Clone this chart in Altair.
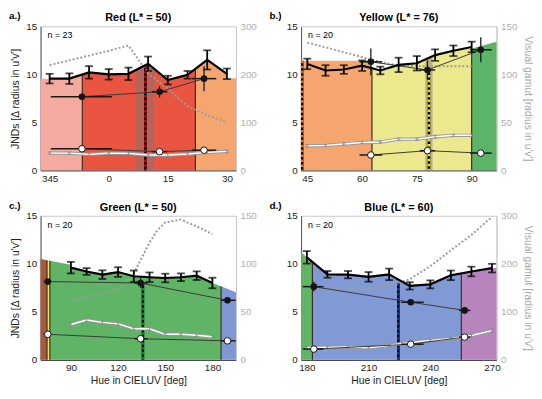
import altair as alt
import pandas as pd

FONT = "Liberation Sans"
W, H = 198, 146

# ---------------- a.) Red ----------------
a_hue = [-15, -10, -5, 0, 5, 10, 15, 20, 25, 30]
a_jnd = [9.55, 9.55, 10.2, 10.0, 10.05, 11.1, 9.4, 9.95, 11.5, 10.05]
a_jnd_err = [0.5, 0.55, 0.65, 0.55, 0.65, 0.75, 0.45, 0.4, 1.0, 0.55]
a_low = [1.8, 1.8, 1.67, 1.8, 1.77, 1.6, 1.6, 1.7, 1.87, 1.98]
a_low_err = [0.12, 0.12, 0.12, 0.1, 0.12, 0.1, 0.15, 0.12, 0.12, 0.15]
a_gam_hue = [-15, -10, -5, 0, 5, 10, 15, 20, 25, 30]
a_gam = [219, 229, 239, 249, 260, 202, 170, 134, 115, 100]
a_mk_hue = [-6.8, 12.9, 24.2]
a_mk_lo = [-14.7, 10.9, 21.1]
a_mk_hi = [0.8, 14.9, 27.3]
a_mk_blk = [7.67, 8.18, 9.55]
a_mk_blk_err = [0.3, 0.6, 1.3]
a_mk_wht = [2.25, 1.95, 2.1]
a_fill_hue = [-17.3, -15, -10, -5, 0, 5, 10, 15, 20, 25, 30, 30.2, 32.3]
a_fill_top = [9.5, 9.55, 9.55, 10.2, 10.0, 10.05, 11.1, 9.4, 9.95, 11.5, 10.05, 9.6, 9.6]
a_reg_lo = [-17.3, -6.7, 22]
a_reg_hi = [-6.7, 22, 32.3]
a_reg_col = ["#f5aaa0", "#e95541", "#f5a56e"]
a_edges = [-6.7, 22]
a_band = [[6.9, 11.6]]
a_dash_hue = [9.3]
a_dash_top = [10.9]
a_dash_col = ["#d00000"]

# ---------------- b.) Yellow ----------------
b_hue = [45, 50, 55, 60, 65, 70, 75, 80, 85, 90]
b_jnd = [11.08, 10.4, 10.5, 10.9, 10.4, 10.98, 11.15, 12.0, 12.45, 12.85]
b_jnd_err = [0.55, 0.55, 0.45, 0.55, 0.4, 0.75, 0.75, 0.6, 0.55, 0.55]
b_low = [2.55, 2.6, 2.75, 2.9, 2.95, 3.25, 3.25, 3.5, 3.65, 3.65]
b_low_err = [0.15, 0.1, 0.1, 0.1, 0.1, 0.12, 0.12, 0.15, 0.12, 0.12]
b_gam_hue = [45, 50, 55, 60, 65, 70, 75, 80, 85, 90]
b_gam = [133, 128, 123, 118, 113, 109, 108.5, 108.5, 108.5, 108.5]
b_mk_hue = [62.4, 77.9, 92.5]
b_mk_lo = [59.3, 75.8, 89.6]
b_mk_hi = [65.5, 80.0, 95.5]
b_mk_blk = [11.3, 10.45, 12.55]
b_mk_blk_err = [1.4, 1.0, 1.3]
b_mk_wht = [1.6, 2.05, 1.8]
b_fill_hue = [43.3, 62.7, 62.7, 65, 70, 75, 80, 85, 90, 90, 96.8]
b_fill_top = [11.4, 11.4, 10.75, 10.4, 10.98, 11.15, 12.0, 12.45, 12.85, 12.7, 13.4]
b_reg_lo = [43.3, 62.7, 90.0]
b_reg_hi = [62.7, 90.0, 96.8]
b_reg_col = ["#f5a66e", "#ece88e", "#5cb466"]
b_edges = [62.7, 90.0]
b_band = [[77.3, 79.3]]
b_dash_hue = [78.3, 43.6]
b_dash_top = [10.45, 11.4]
b_dash_col = ["#f2e600", "#e8731a"]

# ---------------- c.) Green ----------------
c_hue = [90, 100, 110, 120, 130, 140, 150, 160, 170, 180]
c_jnd = [9.6, 9.2, 8.87, 9.14, 8.7, 8.6, 8.52, 8.6, 8.76, 8.0]
c_jnd_err = [0.6, 0.35, 0.45, 0.5, 0.6, 0.5, 0.45, 0.4, 0.45, 0.55]
c_low = [3.68, 4.15, 3.9, 3.75, 3.24, 3.24, 2.66, 2.66, 2.56, 2.4]
c_low_err = [0.3, 0.2, 0.15, 0.15, 0.12, 0.15, 0.12, 0.1, 0.12, 0.12]
c_gam_hue = [90, 100, 110, 120, 125, 130, 135, 140, 145, 150, 160, 170, 180]
c_gam = [62, 65, 69, 73, 78, 90, 106, 122, 135, 143, 146, 139, 131]
c_mk_hue = [75.3, 134.3, 189.6]
c_mk_lo = [72.6, 130.5, 185.5]
c_mk_hi = [77.6, 138.8, 194.8]
c_mk_blk = [8.15, 8.0, 6.2]
c_mk_blk_err = [0.2, 0.5, 0.3]
c_mk_wht = [2.66, 2.2, 1.98]
c_fill_hue = [70.7, 89.7, 90, 100, 110, 120, 130, 140, 150, 160, 170, 180, 185.5, 195]
c_fill_top = [10.5, 9.9, 9.6, 9.2, 8.87, 9.14, 8.7, 8.6, 8.52, 8.6, 8.76, 8.0, 7.65, 7.05]
c_reg_lo = [70.7, 74.8, 76.6, 185.5]
c_reg_hi = [74.8, 76.6, 185.5, 195.0]
c_reg_col = ["#a9583c", "#f3e36a", "#5fb466", "#7f98d4"]
c_edges = [74.8, 76.6, 185.5]
c_band = []
c_dash_hue = [135.8]
c_dash_top = [8.0]
c_dash_col = ["#0a8a3a"]

# ---------------- d.) Blue ----------------
d_hue = [180, 190, 200, 210, 220, 230, 240, 250, 260, 270]
d_jnd = [10.67, 8.9, 8.87, 8.64, 8.9, 7.7, 7.86, 8.8, 9.2, 9.55]
d_jnd_err = [0.65, 0.35, 0.38, 0.5, 0.6, 0.38, 0.42, 0.5, 0.5, 0.45]
d_low = [1.29, 1.29, 1.35, 1.25, 1.52, 1.8, 2.03, 2.2, 2.54, 3.05]
d_low_err = [0.12, 0.1, 0.1, 0.1, 0.1, 0.1, 0.1, 0.12, 0.12, 0.15]
d_gam_hue = [183, 190, 200, 210, 220, 230, 240, 250, 260, 270]
d_gam = [148, 147, 147, 149, 153, 168, 195, 228, 260, 298]
d_mk_hue = [183.4, 230.5, 256.7]
d_mk_lo = [178.0, 225.8, 254.0]
d_mk_hi = [188.1, 236.8, 259.5]
d_mk_blk = [7.62, 6.0, 5.15]
d_mk_blk_err = [0.5, 0.2, 0.35]
d_mk_wht = [1.12, 1.63, 2.37]
d_fill_hue = [177.2, 180, 190, 200, 210, 220, 230, 240, 250, 260, 270, 272.2]
d_fill_top = [11.2, 10.67, 8.9, 8.87, 8.64, 8.9, 7.7, 7.86, 8.8, 9.2, 9.55, 9.55]
d_reg_lo = [177.2, 182.7, 255.1]
d_reg_hi = [182.7, 255.1, 272.2]
d_reg_col = ["#5fb466", "#819ad6", "#b884be"]
d_edges = [182.7, 255.1]
d_band = []
d_dash_hue = [224.5]
d_dash_top = [8.0]
d_dash_col = ["#1a3a9a"]

YT = "JNDs [\u0394 radius in u'v']"
RT = "Visual gamut [radius in u'v']"
XT = "Hue in CIELUV [deg]"

panels = [
    dict(title="Red (L* = 50)", label="a.)", n="n = 23", xdom=[-17.3, 32.3], xticks=[-15, 0, 15, 30],
         xexpr="datum.value < 0 ? datum.value + 360 : datum.value", rdom=[0, 300], rticks=[0, 100, 200, 300],
         ytitle=YT, rtitle=None, xtitle=None,
         hue=a_hue, jnd=a_jnd, jnd_err=a_jnd_err, low=a_low, low_err=a_low_err, gh=a_gam_hue, g=a_gam,
         mh=a_mk_hue, mlo=a_mk_lo, mhi=a_mk_hi, mb=a_mk_blk, mbe=a_mk_blk_err, mw=a_mk_wht,
         fh=a_fill_hue, ft=a_fill_top, rlo=a_reg_lo, rhi=a_reg_hi, rcol=a_reg_col, edges=a_edges,
         band=a_band, dh=a_dash_hue, dt=a_dash_top, dc=a_dash_col),
    dict(title="Yellow (L* = 76)", label="b.)", n="n = 20", xdom=[43.3, 96.8], xticks=[45, 60, 75, 90],
         rdom=[0, 150], rticks=[0, 50, 100, 150], ytitle=None, rtitle=RT, xtitle=None,
         hue=b_hue, jnd=b_jnd, jnd_err=b_jnd_err, low=b_low, low_err=b_low_err, gh=b_gam_hue, g=b_gam,
         mh=b_mk_hue, mlo=b_mk_lo, mhi=b_mk_hi, mb=b_mk_blk, mbe=b_mk_blk_err, mw=b_mk_wht,
         fh=b_fill_hue, ft=b_fill_top, rlo=b_reg_lo, rhi=b_reg_hi, rcol=b_reg_col, edges=b_edges,
         band=b_band, dh=b_dash_hue, dt=b_dash_top, dc=b_dash_col),
    dict(title="Green (L* = 50)", label="c.)", n="n = 20", xdom=[70.7, 195.0], xticks=[90, 120, 150, 180],
         rdom=[0, 150], rticks=[0, 50, 100, 150], ytitle=YT, rtitle=None, xtitle=XT,
         hue=c_hue, jnd=c_jnd, jnd_err=c_jnd_err, low=c_low, low_err=c_low_err, gh=c_gam_hue, g=c_gam,
         mh=c_mk_hue, mlo=c_mk_lo, mhi=c_mk_hi, mb=c_mk_blk, mbe=c_mk_blk_err, mw=c_mk_wht,
         fh=c_fill_hue, ft=c_fill_top, rlo=c_reg_lo, rhi=c_reg_hi, rcol=c_reg_col, edges=c_edges,
         band=c_band, dh=c_dash_hue, dt=c_dash_top, dc=c_dash_col),
    dict(title="Blue (L* = 60)", label="d.)", n="n = 20", xdom=[177.2, 272.2], xticks=[180, 210, 240, 270],
         rdom=[0, 300], rticks=[0, 100, 200, 300], ytitle=None, rtitle=RT, xtitle=XT,
         hue=d_hue, jnd=d_jnd, jnd_err=d_jnd_err, low=d_low, low_err=d_low_err, gh=d_gam_hue, g=d_gam,
         mh=d_mk_hue, mlo=d_mk_lo, mhi=d_mk_hi, mb=d_mk_blk, mbe=d_mk_blk_err, mw=d_mk_wht,
         fh=d_fill_hue, ft=d_fill_top, rlo=d_reg_lo, rhi=d_reg_hi, rcol=d_reg_col, edges=d_edges,
         band=d_band, dh=d_dash_hue, dt=d_dash_top, dc=d_dash_col),
]


def top_at(fh, ft, x, side):
    """Profile value at x (side='left' takes the last value if x is a step, 'right' the first)."""
    exact = [t for h, t in zip(fh, ft) if h == x]
    if exact:
        return exact[-1] if side == "left" else exact[0]
    for k in range(len(fh) - 1):
        if fh[k] <= x <= fh[k + 1] and fh[k + 1] > fh[k]:
            f = (x - fh[k]) / (fh[k + 1] - fh[k])
            return ft[k] + f * (ft[k + 1] - ft[k])
    return ft[-1]


def segment(fh, ft, lo, hi, key):
    rows = [(lo, top_at(fh, ft, lo, "left"))]
    rows += [(h, t) for h, t in zip(fh, ft) if lo < h < hi]
    rows.append((hi, top_at(fh, ft, hi, "right")))
    return [{"hue": h, "top": t, "r": key} for (h, t) in rows]


def make_panel(P):
    xs = alt.Scale(domain=P["xdom"], nice=False, zero=False)
    ys = alt.Scale(domain=[0, 15], nice=False, zero=False)
    rs = alt.Scale(domain=P["rdom"], nice=False, zero=False)

    xkw = dict(orient="bottom", values=P["xticks"], grid=False, ticks=False, labelPadding=3,
               domainColor="#333333", title=P["xtitle"], titlePadding=3)
    if "xexpr" in P:
        xkw["labelExpr"] = P["xexpr"]
    xaxis = alt.Axis(**xkw)
    yaxis = alt.Axis(orient="left", values=[0, 5, 10, 15], grid=False, ticks=False, labelPadding=4,
                     domainColor="#555555", title=P["ytitle"], titlePadding=5)
    raxis = alt.Axis(orient="right", values=P["rticks"], grid=False, ticks=False, labelPadding=4,
                     domainColor="#c8c8c8", labelColor="#b0b0b0", titleColor="#a8a8a8",
                     title=P["rtitle"], titleAngle=90, titlePadding=6)

    # every layer carries the same (shared) x axis definition so that the merge keeps it
    def X(f):
        return alt.X(f, type="quantitative", scale=xs, axis=xaxis)

    def Y(f, axis=None):
        return alt.Y(f, type="quantitative", scale=ys, axis=axis)

    fh, ft = P["fh"], P["ft"]
    reg_rows = []
    for k, (lo, hi, col) in enumerate(zip(P["rlo"], P["rhi"], P["rcol"])):
        for r in segment(fh, ft, lo, hi, k):
            r["col"] = col
            reg_rows.append(r)
    reg = pd.DataFrame(reg_rows)
    band_rows = []
    for k, (lo, hi) in enumerate(P["band"]):
        band_rows += segment(fh, ft, lo, hi, k)
    edges = pd.DataFrame({"e": P["edges"],
                          "top": [min(top_at(fh, ft, e, "left"), top_at(fh, ft, e, "right")) for e in P["edges"]]})

    jnd = pd.DataFrame({"hue": P["hue"], "v": P["jnd"],
                        "lo": [v - e for v, e in zip(P["jnd"], P["jnd_err"])],
                        "hi": [v + e for v, e in zip(P["jnd"], P["jnd_err"])]})
    low = pd.DataFrame({"hue": P["hue"], "v": P["low"],
                        "lo": [v - e for v, e in zip(P["low"], P["low_err"])],
                        "hi": [v + e for v, e in zip(P["low"], P["low_err"])]})
    mk = pd.DataFrame({"hue": P["mh"], "lo": P["mlo"], "hi": P["mhi"], "b": P["mb"], "w": P["mw"],
                       "blo": [v - e for v, e in zip(P["mb"], P["mbe"])],
                       "bhi": [v + e for v, e in zip(P["mb"], P["mbe"])]})
    gam = pd.DataFrame({"h": P["gh"], "g": P["g"]})
    dash = pd.DataFrame({"hue": P["dh"], "top": P["dt"], "col": P["dc"]})

    layers = []
    # JND line first (invisible): carries the left axis
    layers.append(alt.Chart(jnd).mark_line(color="black", strokeWidth=2.2, opacity=0).encode(
        x=X("hue"), y=Y("v", yaxis)))
    layers.append(alt.Chart(reg).mark_area(opacity=1, line=False).encode(
        x=X("hue"), y=Y("top"), y2=alt.Y2Datum(0), detail="r:N",
        color=alt.Color("col:N", scale=None)))
    if band_rows:
        layers.append(alt.Chart(pd.DataFrame(band_rows)).mark_area(color="#777777", opacity=0.45).encode(
            x=X("hue"), y=Y("top"), y2=alt.Y2Datum(0), detail="r:N"))
    layers.append(alt.Chart(edges).mark_rule(color="#3b2b22", strokeWidth=1.2).encode(
        x=X("e"), y=Y("top"), y2=alt.Y2Datum(0)))
    layers.append(alt.Chart(dash).mark_rule(color="black", strokeWidth=2.6).encode(
        x=X("hue"), y=Y("top"), y2=alt.Y2Datum(0)))
    layers.append(alt.Chart(dash).mark_rule(strokeWidth=2.6, strokeDash=[2.5, 2.5]).encode(
        x=X("hue"), y=Y("top"), y2=alt.Y2Datum(0), color=alt.Color("col:N", scale=None)))

    # gamut (right axis)
    layers.append(alt.Chart(gam).mark_line(color="#9c9c9c", strokeWidth=2, strokeDash=[2, 2]).encode(
        x=X("h"), y=alt.Y("g", type="quantitative", scale=rs, axis=raxis)))

    # lower (white) JND series
    layers.append(alt.Chart(low).mark_line(color="#9a9a9a", strokeWidth=3.4).encode(x=X("hue"), y=Y("v")))
    layers.append(alt.Chart(low).mark_line(color="white", strokeWidth=1.4).encode(x=X("hue"), y=Y("v")))
    layers.append(alt.Chart(low).mark_rule(color="#8a8a8a", strokeWidth=1).encode(
        x=X("hue"), y=Y("lo"), y2="hi"))
    for f in ["lo", "hi"]:
        layers.append(alt.Chart(low).mark_tick(orient="horizontal", size=4, thickness=1, color="#8a8a8a").encode(
            x=X("hue"), y=Y(f)))

    # marker connections and horizontal bars
    for f in ["b", "w"]:
        layers.append(alt.Chart(mk).mark_line(color="#3a3a3a", strokeWidth=1).encode(x=X("hue"), y=Y(f)))
        layers.append(alt.Chart(mk).mark_rule(color="#1a1a1a", strokeWidth=1.5).encode(
            x=X("lo"), x2="hi", y=Y(f)))
    layers.append(alt.Chart(mk).mark_rule(color="#1a1a1a", strokeWidth=1.3).encode(
        x=X("hue"), y=Y("blo"), y2="bhi"))

    # main JND line (visible)
    layers.append(alt.Chart(jnd).mark_line(color="black", strokeWidth=2.2).encode(x=X("hue"), y=Y("v")))
    layers.append(alt.Chart(jnd).mark_rule(color="black", strokeWidth=1.8).encode(
        x=X("hue"), y=Y("lo"), y2="hi"))
    for f in ["lo", "hi"]:
        layers.append(alt.Chart(jnd).mark_tick(orient="horizontal", size=8, thickness=1.8, color="black").encode(
            x=X("hue"), y=Y(f)))

    # markers
    layers.append(alt.Chart(mk).mark_point(filled=True, color="#151515", size=45, opacity=1).encode(
        x=X("hue"), y=Y("b")))
    layers.append(alt.Chart(mk).mark_point(filled=True, fill="white", stroke="#151515", strokeWidth=1,
                                           size=45, opacity=1).encode(x=X("hue"), y=Y("w")))

    # texts
    layers.append(alt.Chart(pd.DataFrame({"t": [P["n"]]})).mark_text(
        align="left", baseline="middle", fontSize=9, font=FONT, color="black").encode(
        text="t:N", x=alt.value(7), y=alt.value(9)))
    layers.append(alt.Chart(pd.DataFrame({"t": [P["label"]]})).mark_text(
        align="left", baseline="middle", fontSize=10, fontWeight="bold", font=FONT, color="black").encode(
        text="t:N", x=alt.value(-32), y=alt.value(-10)))
    layers.append(alt.Chart(pd.DataFrame({"t": [P["title"]]})).mark_text(
        align="center", baseline="middle", fontSize=11, fontWeight="bold", font=FONT, color="black").encode(
        text="t:N", x=alt.value(W / 2), y=alt.value(-8)))

    return alt.layer(*layers).resolve_scale(y="independent").properties(width=W, height=H)


charts = [make_panel(P) for P in panels]
chart = alt.concat(*charts, columns=2, spacing={"row": 46, "column": 66}, bounds="flush").properties(
    padding={"left": 0, "top": 0, "right": 0, "bottom": 0}
).configure_view(stroke="#c8c8c8", strokeWidth=1).configure_axis(
    labelFont=FONT, titleFont=FONT, labelFontSize=10, titleFontSize=10.5, titleFontWeight="normal",
    labelColor="#222222", titleColor="#222222")

chart.save("out.html", embed_options={"renderer": "svg", "actions": False})
